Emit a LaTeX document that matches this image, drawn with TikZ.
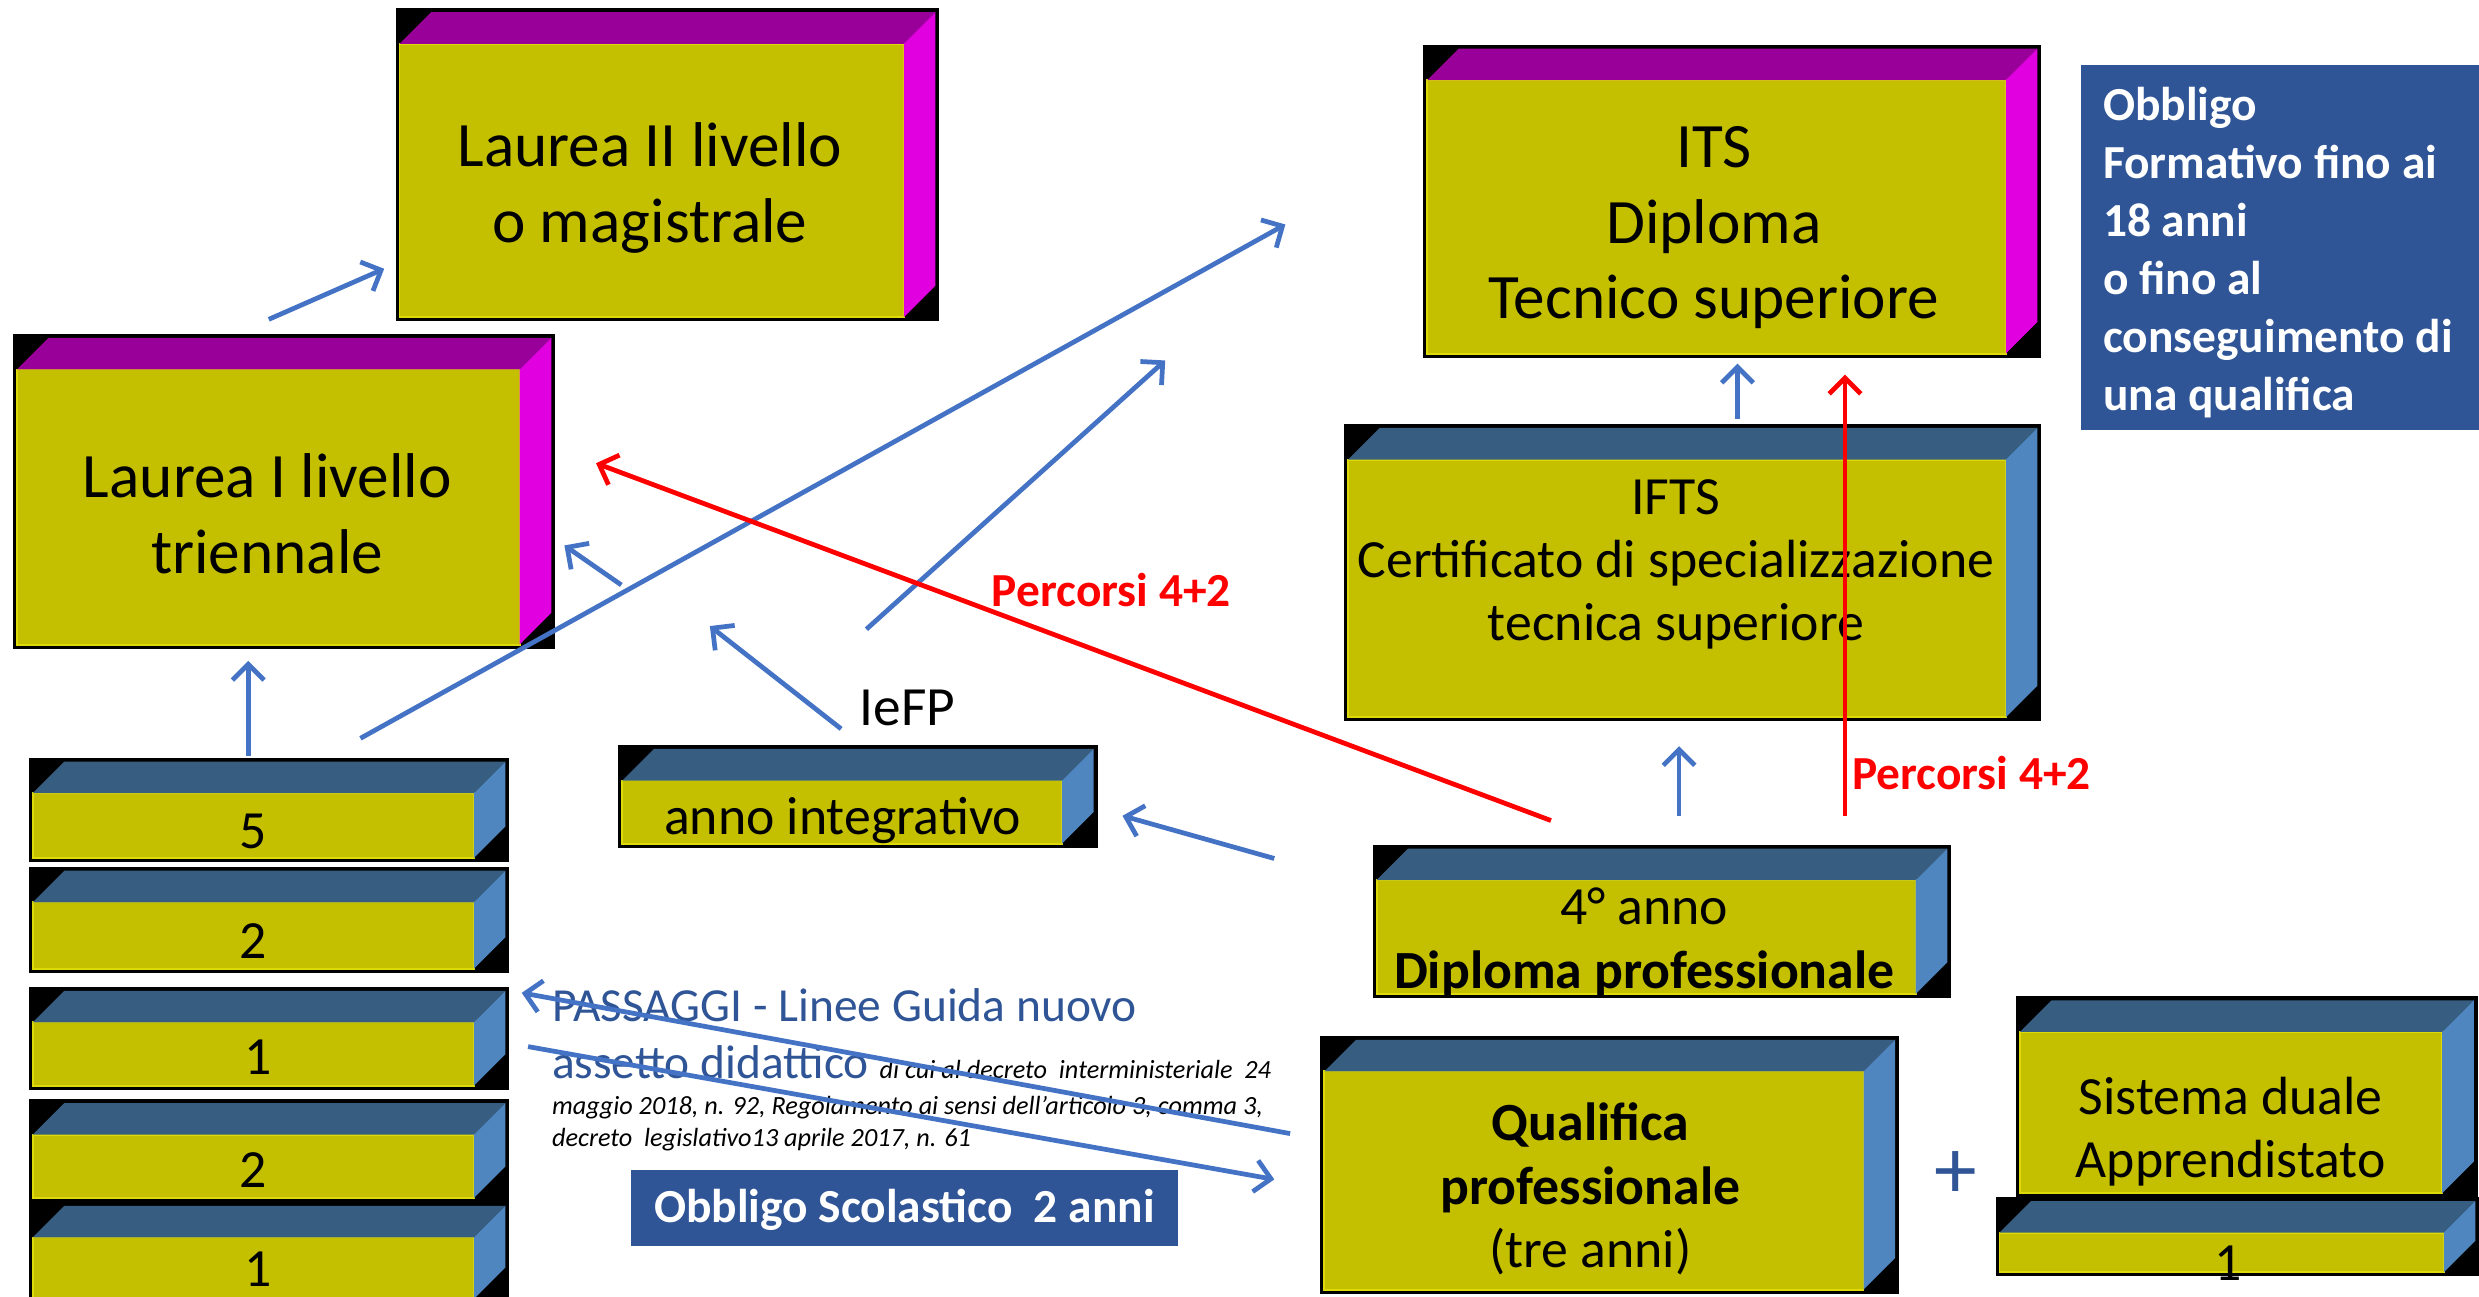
\documentclass[tikz,border=0pt]{standalone}
\usepackage{fontspec}
\setmainfont{Carlito}
\usetikzlibrary{positioning,calc,arrows.meta}

\definecolor{cubeyellow}{RGB}{196,192,0}
\definecolor{cubeedge}{RGB}{222,218,10}
\definecolor{toppurple}{RGB}{153,0,153}
\definecolor{sidemagenta}{RGB}{224,0,224}
\definecolor{topblue}{RGB}{55,94,128}
\definecolor{sideblue}{RGB}{79,134,191}
\definecolor{boxblue}{RGB}{47,85,151}
\definecolor{arrowblue}{RGB}{68,114,196}

\newcommand{\cubedepth}{20}
\newcommand{\cubegap}{2.5}
\newcommand{\decrfont}{\color{black}\itshape\fontsize{16.6}{20}\selectfont}

\begin{document}
\begin{tikzpicture}[x=1pt,y=1pt]
    \tikzset{
        cube top/.store in=\cubetop,
        cube side/.store in=\cubeside,
        cube/.style={rectangle,fill=black,draw=none,inner sep=0,anchor=north west,
            path picture={
                \path (path picture bounding box.south west) coordinate (sw)
                      (path picture bounding box.north east) coordinate (ne);
                \filldraw[fill=cubeyellow,draw=cubeedge,line width=1.2pt]
                    ($(sw)+(\cubegap,\cubegap)$) rectangle ($(ne)-(\cubegap+\cubedepth,\cubegap+\cubedepth)$);
                \fill[\cubetop] ($(sw|-ne)+(\cubegap,-\cubegap-\cubedepth)$) -- ($(sw|-ne)+(\cubegap+\cubedepth,-\cubegap)$)
                    -- ($(ne)+(-\cubegap,-\cubegap)$) -- ($(ne)+(-\cubegap-\cubedepth,-\cubegap-\cubedepth)$) -- cycle;
                \fill[\cubeside] ($(ne)+(-\cubegap-\cubedepth,-\cubegap-\cubedepth)$) -- ($(ne)+(-\cubegap,-\cubegap)$)
                    -- ($(ne|-sw)+(-\cubegap,\cubegap+\cubedepth)$) -- ($(ne|-sw)+(-\cubegap-\cubedepth,\cubegap)$) -- cycle;
            }},
        purplecube/.style={cube,cube top=toppurple,cube side=sidemagenta},
        bluecube/.style={cube,cube top=topblue,cube side=sideblue},
        bigtext/.style={align=center,inner sep=0,font=\fontsize{40}{48}\selectfont},
        cubetext/.style={align=center,inner sep=0,font=\fontsize{34}{40}\selectfont},
        note/.style={fill=boxblue,text=white,inner sep=0,font=\bfseries\fontsize{30}{36.6}\selectfont},
        percorsi/.style={text=red,inner sep=0,font=\bfseries\fontsize{30}{36}\selectfont},
        blueflow/.style={draw=arrowblue,line width=3pt,-{Straight Barb[length=10pt,width=20pt]}},
        redflow/.style={draw=red,line width=3pt,-{Straight Barb[length=10pt,width=20pt]}}
    }
    \path[use as bounding box,fill=white] (0,0) rectangle (1568,820);

    % university and higher technical paths
    \node[purplecube,minimum width=344,minimum height=198] (lau2) at (250,815) {};
    \node[purplecube,minimum width=343,minimum height=199] (lau1) at (8,609) {};
    \node[purplecube,minimum width=391,minimum height=198] (its) at (900,792) {};
    \node[bluecube,minimum width=441,minimum height=188] (ifts) at (850,552) {};

    \node[bigtext] (lau2txt) at (411,701) {Laurea II livello\\o magistrale};
    \node[bigtext] (lau1txt) at (169,495) {Laurea I livello\\triennale};
    \node[bigtext] (itstxt) at (1084,676) {ITS\\Diploma\\Tecnico superiore};
    \node[cubetext] (iftstxt) at (1060,463) {IFTS\\Certificato di specializzazione\\tecnica superiore};

    % IeFP
    \node[bluecube,minimum width=366,minimum height=97] (quarto) at (868,286) {};
    \node[bluecube,minimum width=366,minimum height=163] (qual) at (835,165) {};
    \node[bluecube,minimum width=292,minimum height=127] (duale) at (1275,190) {};
    \node[bluecube,minimum width=306,minimum height=50] (duale1) at (1262,63) {};
    \node[bluecube,minimum width=303,minimum height=65] (integr) at (391,349) {};

    \node[cubetext] (quartotxt) at (1040,224) {4° anno\\\textbf{Diploma professionale}};
    \node[cubetext] (qualtxt) at (1006,68) {\textbf{Qualifica}\\\textbf{professionale}\\(tre anni)};
    \node[cubetext] (dualetxt) at (1411,104) {Sistema duale\\Apprendistato};
    \node[cubetext] (duale1txt) at (1409,21) {1};
    \node[cubetext] (integrtxt) at (533,301) {anno integrativo};
    \node[cubetext,text=boxblue,font=\fontsize{54}{60}\selectfont] (plus) at (1237,77) {+};
    \node[cubetext,font=\fontsize{35}{40}\selectfont] (iefp) at (574,372) {IeFP};

    % school years
    \node[bluecube,minimum width=304,minimum height=66] (s5) at (18,341) {};
    \node[bluecube,minimum width=304,minimum height=67] (s2a) at (18,272) {};
    \node[bluecube,minimum width=304,minimum height=65] (s1a) at (18,196) {};
    \node[bluecube,minimum width=304,minimum height=65] (s2b) at (18,125) {};
    \node[bluecube,minimum width=304,minimum height=64] (s1b) at (18,60) {};

    \node[cubetext] (s5txt) at (160,294) {5};
    \node[cubetext] (s2atxt) at (160,225) {2};
    \node[cubetext] (s1atxt) at (163,151) {1};
    \node[cubetext] (s2btxt) at (160,80) {2};
    \node[cubetext] (s1btxt) at (163,17) {1};

    % notes
    \node[note,align=flush left,text width=230,inner xsep=14,minimum height=231,anchor=north west] (obbform) at (1316,779)
        {\rule{0pt}{27pt}Obbligo\\Formativo fino ai\\18 anni\\o fino al\\conseguimento di\\una qualifica};
    \node[note,minimum width=346,minimum height=48,text depth=2pt] (obbscol) at (572,56) {Obbligo Scolastico\ \ 2 anni};
    \node[text=boxblue,inner sep=0,text width=520,align=flush left,anchor=north west,font=\fontsize{30}{36}\selectfont] (passaggi) at (349,195)
        {PASSAGGI - Linee Guida nuovo\par
         assetto didattico {\decrfont di cui al decreto\ \ interministeriale\ \ 24}\par\vspace{3pt}
         {\decrfont maggio 2018, n. 92, Regolamento ai sensi dell’articolo 3, comma 3,\par
          decreto\ \ legislativo13 aprile 2017, n. 61\par}};
    \node[percorsi] (perc1) at (703,447) {Percorsi 4+2};
    \node[percorsi] (perc2) at (1247,331) {Percorsi 4+2};

    % connectors
    \coordinate (l1out) at (170,618);
    \coordinate (l2in) at (243,650);
    \coordinate (s5out) at (157,342);
    \coordinate (l1in) at (157,402);
    \coordinate (s5far) at (228,353);
    \coordinate (itsfar) at (813,678);
    \coordinate (midout) at (393,450);
    \coordinate (l1side) at (357,475);
    \coordinate (iefpup) at (548,422);
    \coordinate (itsmid) at (737,592);
    \coordinate (iefpout) at (532,359);
    \coordinate (iefpin) at (449,424);
    \coordinate (quartoout) at (806,277);
    \coordinate (integrin) at (710,304);
    \coordinate (quartoup) at (1062,304);
    \coordinate (iftsin) at (1062,348);
    \coordinate (iftsout) at (1099,555);
    \coordinate (itsin) at (1099,590);
    \coordinate (qualout) at (816,103);
    \coordinate (s1ain) at (330,192);
    \coordinate (s1aout) at (334,158);
    \coordinate (qualin) at (806,74);
    \coordinate (red1out) at (981,301);
    \coordinate (red1in) at (377,527);
    \coordinate (red2out) at (1167,304);
    \coordinate (red2in) at (1167,583);

    \draw[blueflow] (l1out) -- (l2in);
    \draw[blueflow] (s5out) -- (l1in);
    \draw[blueflow] (s5far) -- (itsfar);
    \draw[blueflow] (midout) -- (l1side);
    \draw[blueflow] (iefpup) -- (itsmid);
    \draw[blueflow] (iefpout) -- (iefpin);
    \draw[blueflow] (quartoout) -- (integrin);
    \draw[blueflow] (quartoup) -- (iftsin);
    \draw[blueflow] (iftsout) -- (itsin);
    \draw[blueflow] (qualout) -- (s1ain);
    \draw[blueflow] (s1aout) -- (qualin);
    \draw[redflow] (red1out) -- (red1in);
    \draw[redflow] (red2out) -- (red2in);
\end{tikzpicture}
\end{document}
